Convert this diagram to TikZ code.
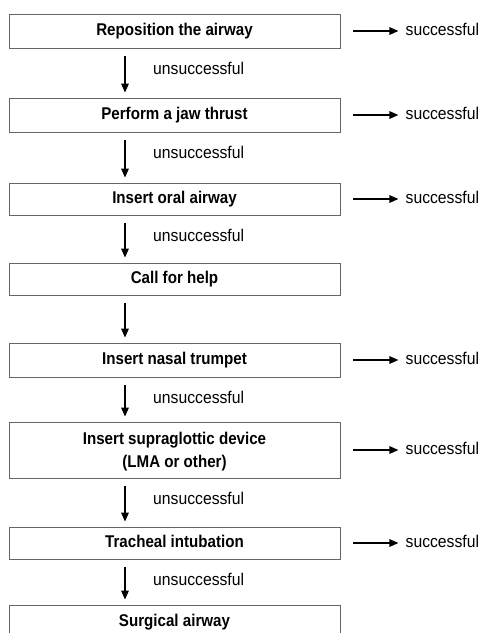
\documentclass[tikz,border=0pt]{standalone}
\usepackage{fontspec}
\setmainfont{Liberation Sans}[FakeStretch=0.925]
\newfontfamily\bxfont{Liberation Sans}[FakeStretch=0.89]
\usetikzlibrary{arrows.meta}
\tikzset{
  stepbase/.style={draw=black!60, line width=0.9pt, minimum width=331pt, inner sep=0pt,
    font=\bxfont\bfseries\fontsize{17pt}{23pt}\selectfont, align=center},
  stepbox/.style={stepbase, minimum height=33pt, text height=12.2pt, text depth=3pt},
  tallbox/.style={stepbase, minimum height=56pt, text depth=0pt},
  lbl/.style={anchor=west, inner sep=0pt, text height=12.2pt, text depth=3pt,
    font=\fontsize{17pt}{20pt}\selectfont},
  arr/.style={line width=1.5pt, -{Triangle[length=9pt,width=7.5pt]}}
}
\begin{document}
\begin{tikzpicture}[x=1pt,y=-1pt]
\clip (0,0) rectangle (484,633);
\fill[white] (0,0) rectangle (484,633);
\node[stepbox, minimum height=34pt] (b1) at (174.5,31) {Reposition the airway};
\node[stepbox, minimum height=34pt] (b2) at (174.5,115) {Perform a jaw thrust};
\node[stepbox, minimum height=32pt] (b3) at (174.5,199) {Insert oral airway};
\node[stepbox, minimum height=32pt] (b4) at (174.5,279) {Call for help};
\node[stepbox, minimum height=34pt] (b5) at (174.5,360) {Insert nasal trumpet};
\node[tallbox] (b6) at (174.5,450) {Insert supraglottic device\\(LMA or other)};
\node[stepbox, minimum height=32pt] (b7) at (174.5,543) {Tracheal intubation};
\node[stepbox, minimum height=34pt] (b8) at (174.5,622) {Surgical airway};

\foreach \a/\b in {b1/b2,b2/b3,b3/b4,b4/b5,b5/b6,b6/b7,b7/b8}{
  \draw[arr] ([xshift=-49.5pt,yshift=-8pt]\a.south) -- ([xshift=-49.5pt,yshift=5pt]\b.north);
}
\foreach \a in {b1,b2,b3,b5,b6,b7}{
  \node[lbl] (u\a) at ([xshift=-21.5pt,yshift=-21.75pt]\a.south) {unsuccessful};
}
\foreach \a in {b1,b2,b3,b5,b6,b7}{
  \coordinate (s\a) at ([xshift=58pt]\a.east);
  \draw[arr] ([xshift=13pt]\a.east) -- (s\a);
  \node[lbl] (t\a) at ([xshift=65pt]\a.east) {successful};
}
\end{tikzpicture}
\end{document}
